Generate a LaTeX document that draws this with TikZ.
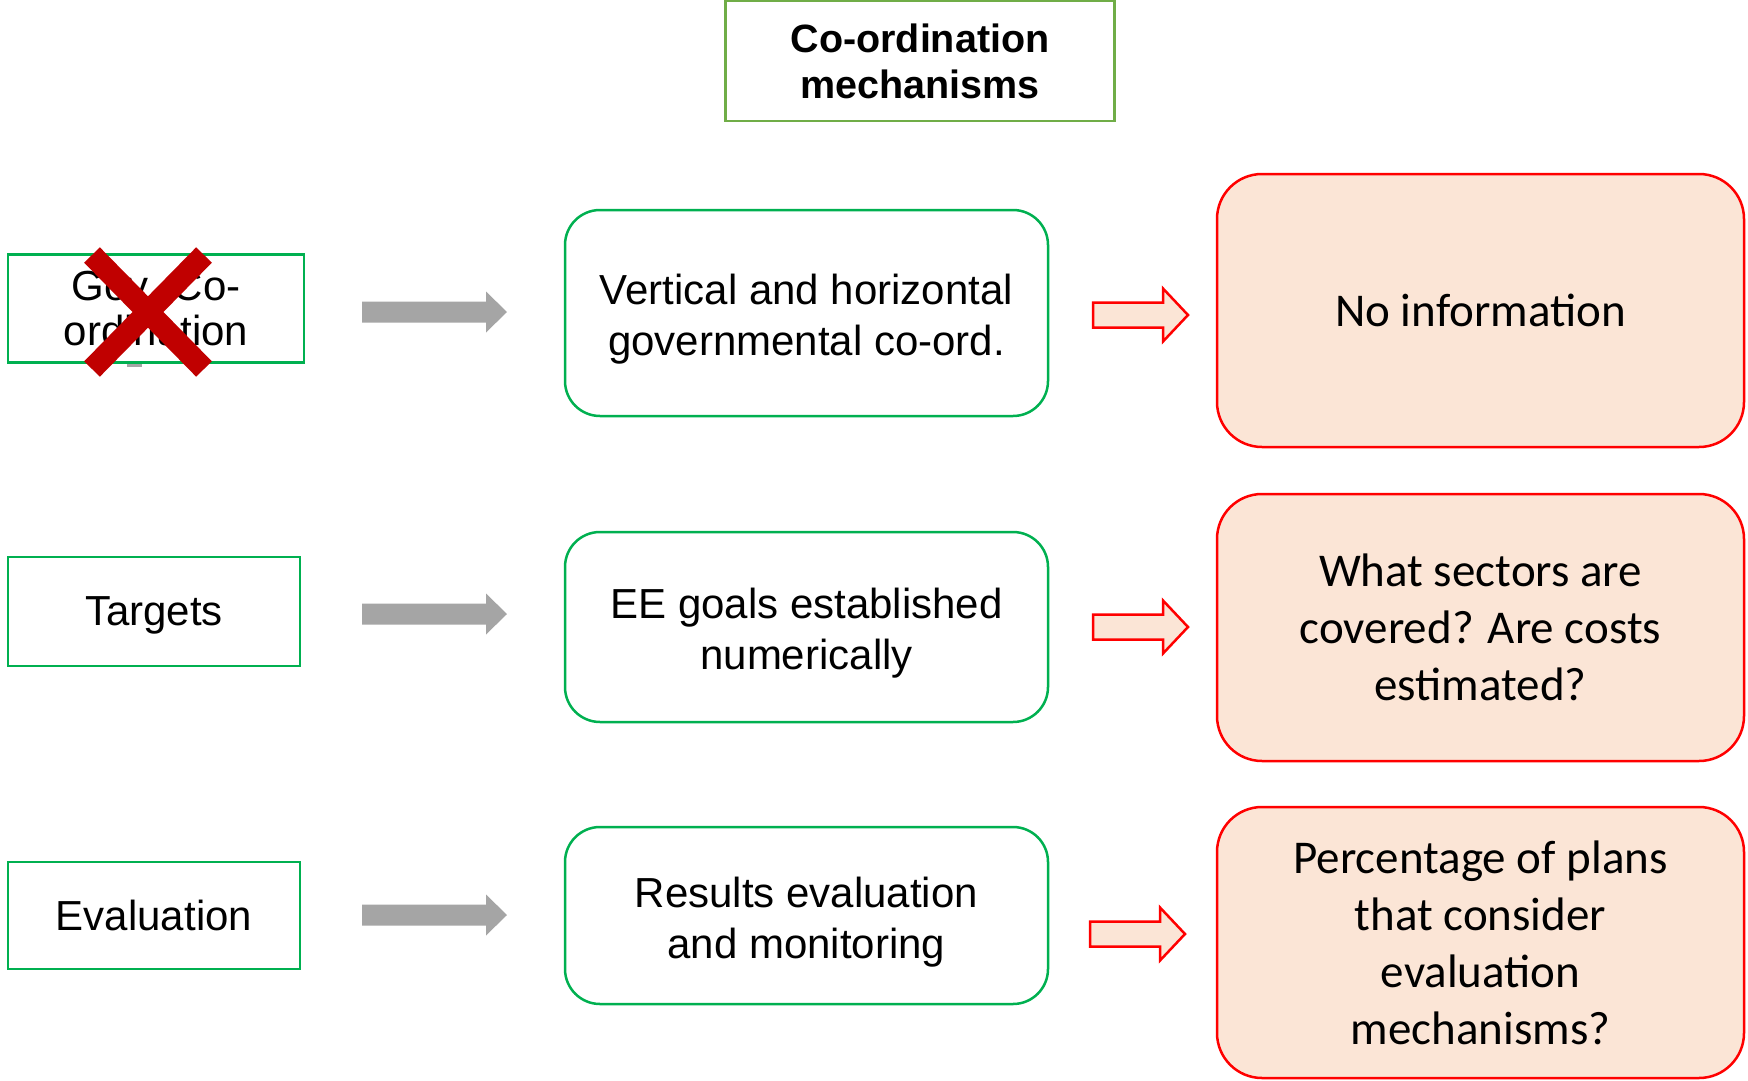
\documentclass[tikz,border=0pt]{standalone}
\usepackage{fontspec}
\setmainfont{Liberation Sans}
\newfontfamily\calib{Carlito}
\definecolor{boxgreen}{HTML}{00B050}
\definecolor{headgreen}{HTML}{70AD47}
\definecolor{notered}{HTML}{FF0000}
\definecolor{peach}{HTML}{FBE5D6}
\definecolor{arrowgray}{HTML}{A5A5A5}
\definecolor{crossred}{HTML}{C00000}
% invisible strut that pushes a text block a little lower in its box
\newcommand\topgap[1]{\rule{0pt}{#1}}
\tikzset{
  headbox/.style={draw=headgreen, line width=2.5pt, align=center, inner sep=0pt,
    minimum width=389pt, minimum height=120pt, font=\fontsize{39.5}{46}\selectfont\bfseries},
  labelbox/.style={draw=boxgreen, line width=2.5pt, align=center, inner sep=0pt,
    minimum width=292pt, font=\fontsize{42}{45}\selectfont},
  stagebox/.style={draw=boxgreen, line width=2.5pt, rounded corners=35pt, align=center,
    inner sep=0pt, minimum width=483pt, font=\fontsize{42}{51}\selectfont},
  notebox/.style={draw=notered, fill=peach, line width=2.5pt, rounded corners=45pt,
    align=center, inner sep=0pt, minimum width=527pt, font=\calib\fontsize{47}{57}\selectfont},
  grayarrow/.pic={\fill[arrowgray] (0,-10.5) -- (124,-10.5) -- (124,-20.5) -- (145,0)
    -- (124,20.5) -- (124,10.5) -- (0,10.5) -- cycle;},
  redarrow/.pic={\draw[notered, fill=peach, line width=2.5pt, line join=miter]
    (0,-12.5) -- (70,-12.5) -- (70,-26.5) -- (95,0) -- (70,26.5) -- (70,12.5)
    -- (0,12.5) -- cycle;},
  crossbar/.style={crossred, line width=22pt, line cap=butt}
}
\begin{document}
\begin{tikzpicture}[x=1pt, y=-1pt]
\useasboundingbox (0,0) rectangle (1748,1081);

% heading
\node[headbox] (head) at (920,61) {Co-ordination\\mechanisms};

% left column
\fill[arrowgray] (127,362) rectangle (142,367);
\node[labelbox, minimum width=296pt, minimum height=108pt] (gov) at (156,308.5) {Gov. Co-\\ordination};
\node[labelbox, minimum height=109pt] (targets) at (154,611.5) {\topgap{36pt}Targets};
\node[labelbox, minimum height=107pt] (eval) at (154,915.5) {Evaluation};

% struck-out first row
\coordinate (xa) at (92,255);
\coordinate (xb) at (204,369);
\coordinate (xc) at (204,255);
\coordinate (xd) at (92,369);
\draw[crossbar] (xa) -- (xb);
\draw[crossbar] (xc) -- (xd);

% middle column
\node[stagebox, minimum height=206pt] (coord) at (806.5,313) {\topgap{42pt}Vertical and horizontal\\governmental co-ord.};
\node[stagebox, minimum height=190pt] (goals) at (806.5,627) {\topgap{42pt}EE goals established\\numerically};
\node[stagebox, minimum height=177pt] (results) at (806.5,915.5) {\topgap{44pt}Results evaluation\\and monitoring};

% right column
\node[notebox, minimum height=273pt] (noinfo) at (1480.5,310.5) {No information};
\node[notebox, minimum height=267pt] (sectors) at (1480.5,627.5) {What sectors are\\covered? Are costs\\estimated?};
\node[notebox, minimum height=271pt] (plans) at (1480.5,942.5) {Percentage of plans\\that consider\\evaluation\\mechanisms?};

% block arrows
\pic (g1) at (362,312) {grayarrow};
\pic (g2) at (362,614) {grayarrow};
\pic (g3) at (362,915) {grayarrow};
\pic (r1) at (1093,315) {redarrow};
\pic (r2) at (1093,627) {redarrow};
\pic (r3) at (1090,934) {redarrow};
\end{tikzpicture}
\end{document}
